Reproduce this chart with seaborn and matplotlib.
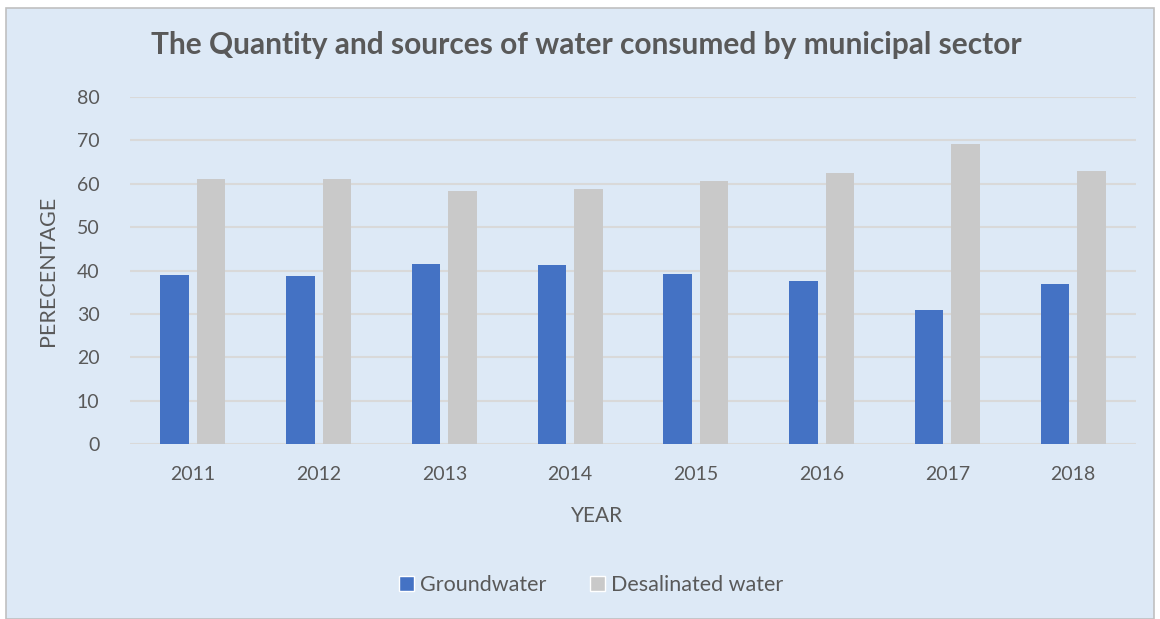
import matplotlib
matplotlib.use('Agg')
import matplotlib.pyplot as plt
import seaborn as sns
import pandas as pd
from matplotlib.patches import Rectangle

years = ['2011', '2012', '2013', '2014', '2015', '2016', '2017', '2018']
groundwater = [39.0, 38.7, 41.6, 41.3, 39.3, 37.6, 30.9, 36.9]
desalinated = [61.0, 61.2, 58.4, 58.7, 60.7, 62.4, 69.1, 63.0]
series = ['Groundwater', 'Desalinated water']
colors = ['#4472c4', '#c9c9c9']

df = pd.DataFrame({
    'year': years * 2,
    'value': groundwater + desalinated,
    'source': [series[0]] * len(years) + [series[1]] * len(years),
})

sns.set_theme(style='white')
plt.rcParams['font.family'] = ['Lato', 'DejaVu Sans']
text_color = '#595959'
bg = '#dde9f6'

fig = plt.figure(figsize=(11.6, 6.19), dpi=100)
fig.patch.set_facecolor('white')
fig.patches.append(Rectangle((6 / 1160, 0.0), 1 - 12 / 1160, 1 - 8 / 619,
                             transform=fig.transFigure, facecolor=bg,
                             edgecolor='#c0c0c0', linewidth=1.2, zorder=-10))

ax = fig.add_axes([130 / 1160, 1 - 444 / 619, 1006 / 1160, 347 / 619])
ax.set_facecolor('none')

sns.barplot(data=df, x='year', y='value', hue='source', hue_order=series,
            palette=colors, width=0.58, gap=0.22, saturation=1,
            linewidth=0, ax=ax, legend=False, zorder=3)

ax.set_ylim(0, 80)
ax.set_yticks(range(0, 81, 10))
ax.yaxis.grid(True, color='#d9d9d9', linewidth=1.5, zorder=0)
ax.set_axisbelow(True)
for s in ax.spines.values():
    s.set_visible(False)
ax.tick_params(axis='both', length=0, labelsize=14, labelcolor=text_color)
ax.tick_params(axis='x', pad=16)
ax.tick_params(axis='y', pad=22)

ax.set_xlabel('YEAR', fontsize=15, color=text_color)
ax.xaxis.set_label_coords((597 - 130) / 1006, -(506 - 444) / 347)
ax.set_ylabel('PERECENTAGE', fontsize=15.5, color=text_color)
ax.yaxis.set_label_coords(-(130 - 58) / 1006, 0.5)

fig.text(586 / 1160, 1 - 45 / 619, 'The Quantity and sources of water consumed by municipal sector',
         ha='center', va='center', fontsize=21.5, fontweight='bold', color=text_color)

handles = [Rectangle((0, 0), 1, 1, facecolor=c) for c in colors]
fig.legend(handles, series, loc='center', bbox_to_anchor=(591 / 1160, 1 - 585 / 619),
           ncol=2, frameon=False, fontsize=15.5, labelcolor=text_color,
           handlelength=0.7, handleheight=0.7, handletextpad=0.3, columnspacing=2.0)

plt.savefig('out.png', dpi=100, facecolor=fig.get_facecolor())
plt.close()
